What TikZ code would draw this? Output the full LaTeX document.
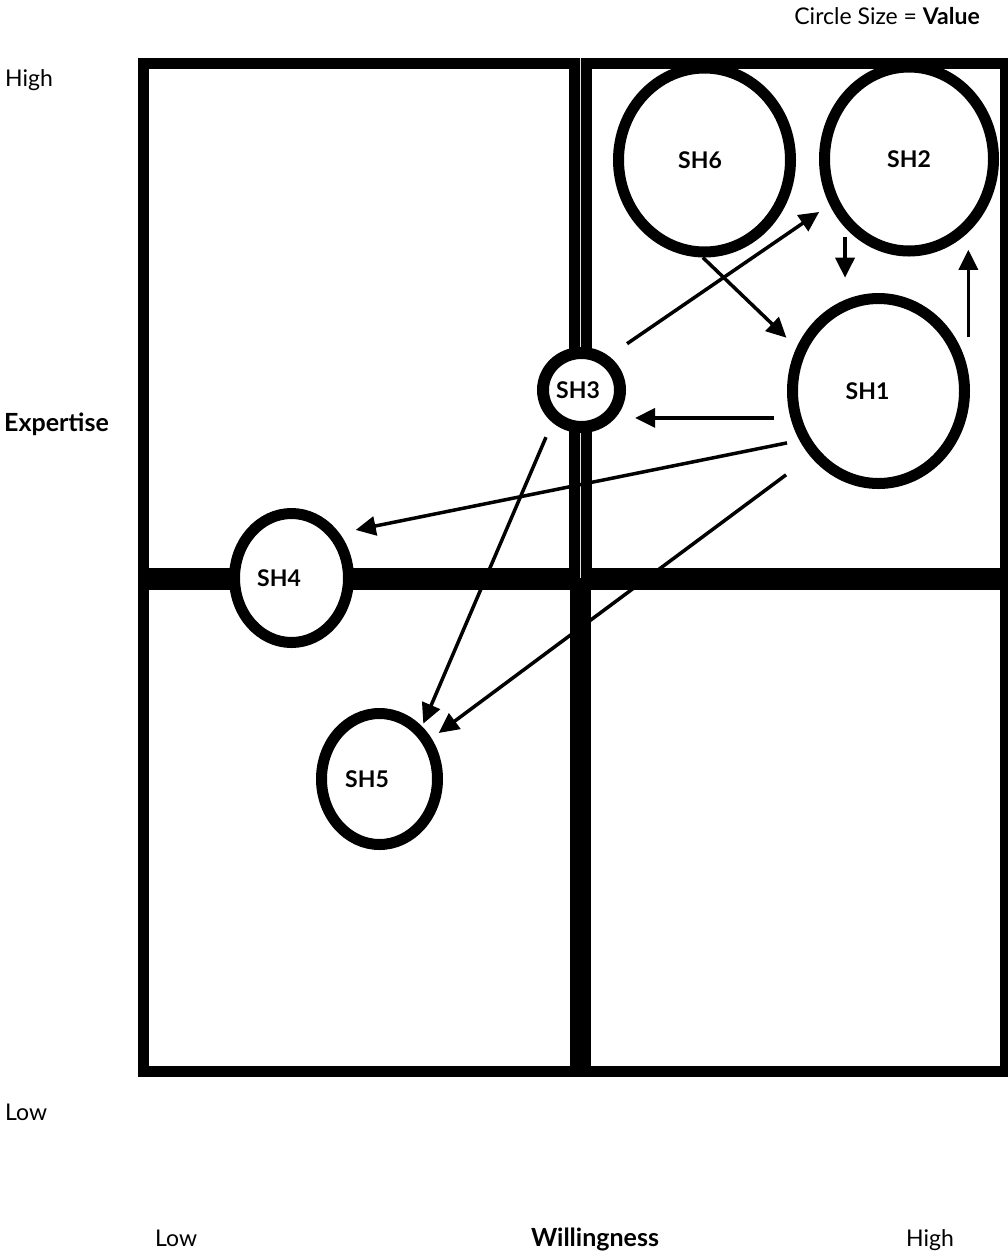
\documentclass[tikz,border=0pt]{standalone}
\usepackage{fontspec}
\setmainfont{Lato}
\usetikzlibrary{shapes.geometric,arrows.meta}
\newcommand\tshift[1]{\hspace*{#1}}
\begin{document}
\begin{tikzpicture}[x=1pt,y=-1pt,
  sh/.style={ellipse, draw=black, fill=white, line width=11pt, inner sep=0pt,
    font=\bfseries\fontsize{23}{23}\selectfont},
  arr/.style={line width=3.5pt, -{Triangle[length=20pt,width=19pt]}},
  lab/.style={inner sep=0pt, font=\fontsize{23}{23}\selectfont},
  blab/.style={inner sep=0pt, font=\bfseries\fontsize{25}{25}\selectfont},
  gridfill/.style={fill=black},
  cell/.style={fill=white}]
\useasboundingbox (0,0) rectangle (1008,1254);
% quadrant grid
\fill[gridfill] (138,58) rectangle (1008,1077);
\fill[cell] (149,69) rectangle (569,568);
\fill[cell] (592,69) rectangle (1000,568);
\fill[cell] (149,590) rectangle (570,1066);
\fill[cell] (591,590) rectangle (1000,1066);
\draw[white!75!gray, line width=1.2pt] (580.5,58) -- (580.5,578);
% stakeholders
\node[sh, minimum width=172pt, minimum height=184pt] (SH6) at (704.5,160) {\tshift{-9pt}SH6};
\node[sh, minimum width=169pt, minimum height=184pt] (SH2) at (909,159) {SH2};
\node[sh, minimum width=172pt, minimum height=185pt] (SH1) at (878.5,391) {\tshift{-22pt}SH1};
\node[sh, line width=12pt, minimum width=77pt, minimum height=74pt] (SH3) at (581.5,390) {\tshift{-7pt}SH3};
\node[sh, minimum width=114pt, minimum height=129pt] (SH4) at (291.5,578) {\tshift{-25pt}SH4};
\node[sh, minimum width=116pt, minimum height=131pt] (SH5) at (379.5,779) {\tshift{-25pt}SH5};
% connectors
\draw[arr, shorten <=22pt, shorten >=12.6pt] (SH3.51) -- (SH2.210);
\draw[arr, shorten >=14pt] (SH6.269) -- (SH1.152);
\draw[arr, shorten <=9pt, shorten >=22pt] (SH2.227) -- (SH2.227 |- SH1.110);
\draw[arr, shorten >=17.5pt] (SH1.35 -| SH2.309) -- (SH2.309);
\draw[arr, shorten <=16.5pt, shorten >=20pt] (SH1.197) -- (SH1.197 -| SH3.320);
\draw[arr, shorten <=12.7pt, shorten >=16.5pt] (SH1.212) -- (SH4.43);
\draw[arr, shorten <=30.5pt, shorten >=9pt] (SH1.224) -- (SH5.38);
\draw[arr, shorten <=16pt, shorten >=3pt] (SH3.228) -- (SH5.51);
% axis labels
\node[lab, anchor=base east] (legend) at (980,24) {Circle Size = \textbf{Value}};
\node[lab, anchor=base west] (yhigh) at (5,86) {High};
\node[blab, anchor=base west] (ylabel) at (4,431) {Expertise};
\node[lab, anchor=base west] (ylow) at (5,1120) {Low};
\node[lab, anchor=base west] (xlow) at (155,1246) {Low};
\node[blab, anchor=base] (xlabel) at (595,1246) {Willingness};
\node[lab, anchor=base west] (xhigh) at (906,1246) {High};
\end{tikzpicture}
\end{document}
